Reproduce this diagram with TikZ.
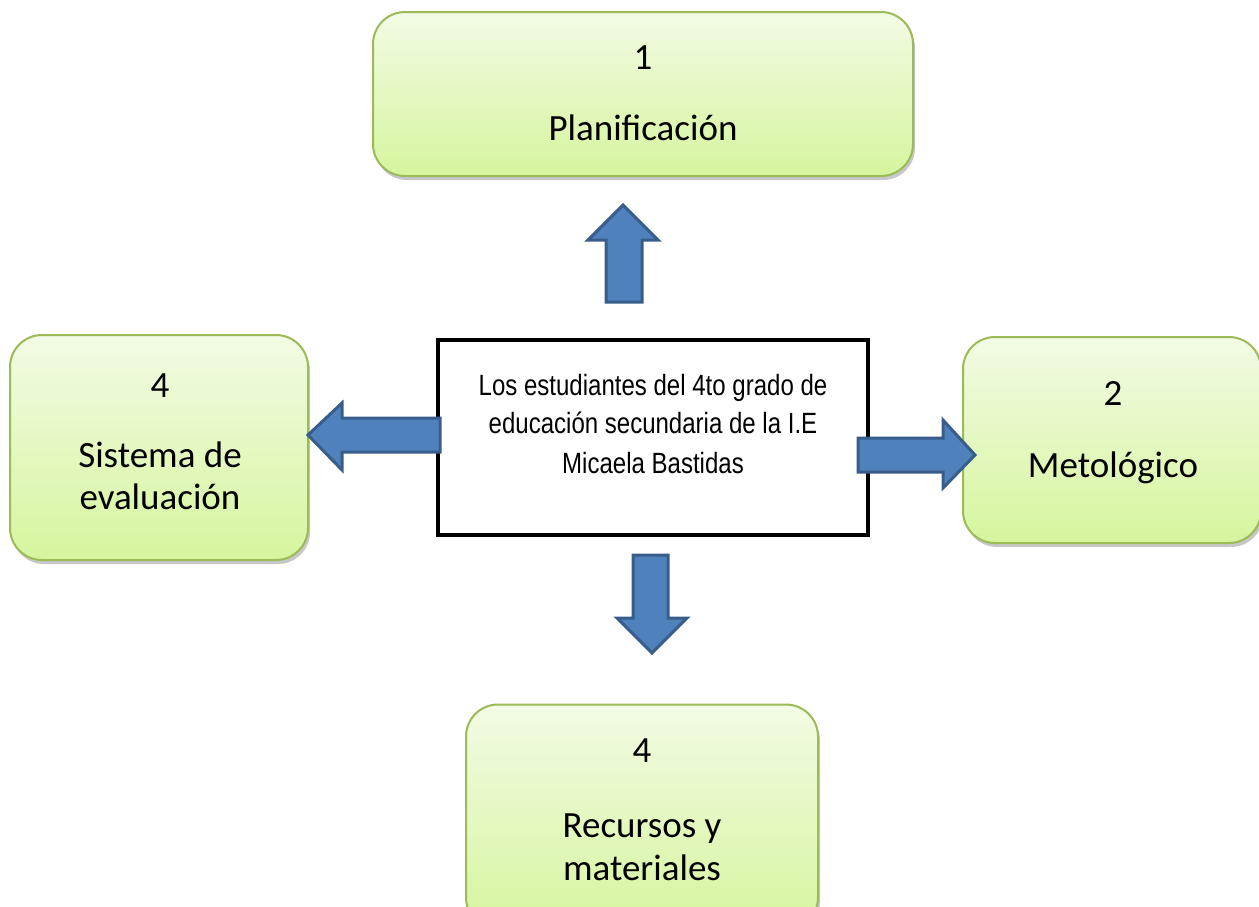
\documentclass[tikz,border=0pt]{standalone}
\usepackage{fontspec}
\setmainfont{Carlito}
\newfontfamily\narrowfont[FakeStretch=0.82]{Liberation Sans}
\usetikzlibrary{shadows}
\definecolor{boxtop}{HTML}{F2FBE4}
\definecolor{boxbot}{HTML}{D6F59E}
\definecolor{boxline}{HTML}{9BBB59}
\definecolor{arrfill}{HTML}{4F81BD}
\definecolor{arrline}{HTML}{385D8A}
\tikzset{
  greenbox/.style={rectangle, rounded corners=32pt, draw=boxline, line width=2pt,
    top color=boxtop, bottom color=boxbot,
    drop shadow={shadow xshift=2pt, shadow yshift=-4pt, opacity=0.22, fill=black}},
  boxtext/.style={anchor=base, font=\fontsize{37}{44}\selectfont, inner sep=0pt},
  centertext/.style={anchor=base, font=\narrowfont\fontsize{29.3}{39}\selectfont, inner sep=0pt},
  blockarrow/.style={fill=arrfill, draw=arrline, line width=3pt, line join=miter},
}
\begin{document}
\begin{tikzpicture}[x=1pt,y=-1pt]
\useasboundingbox (0,0) rectangle (1259,906);
\clip (0,0) rectangle (1259,906);
% boxes
\node[greenbox, minimum width=540pt, minimum height=164pt] (plan) at (643,94) {};
\node[greenbox, minimum width=298pt, minimum height=225pt] (eval) at (159,447.5) {};
\node[greenbox, minimum width=298pt, minimum height=206pt] (meto) at (1112,440) {};
\node[greenbox, minimum width=352pt, minimum height=225pt] (recu) at (642,817) {};
\node[rectangle, draw=black, line width=4pt, fill=white, minimum width=430pt, minimum height=195pt] (center) at (653,437.5) {};
% texts
\node[boxtext] (t1a) at (643,69) {1};
\node[boxtext] (t1b) at (643,140) {Planificación};
\node[boxtext] (t4a) at (160,397) {4};
\node[boxtext] (t4b) at (160,467) {Sistema de};
\node[boxtext] (t4c) at (160,509) {evaluación};
\node[boxtext] (t2a) at (1113,405) {2};
\node[boxtext] (t2b) at (1113,477) {Metológico};
\node[boxtext] (t5a) at (642,762) {4};
\node[boxtext] (t5b) at (642,837) {Recursos y};
\node[boxtext] (t5c) at (642,880) {materiales};
\node[centertext] (c1) at (653,395) {Los estudiantes del 4to grado de};
\node[centertext] (c2) at (653,433) {educación secundaria de la I.E};
\node[centertext] (c3) at (653,473) {Micaela Bastidas};
% block arrows
\draw[blockarrow] (606,302) -- (606,240) -- (588,240) -- (623,205) -- (658,240) -- (642,240) -- (642,302) -- cycle;
\draw[blockarrow] (440,418) -- (342,418) -- (342,403) -- (308,435) -- (342,470) -- (342,452) -- (440,452) -- cycle;
\draw[blockarrow] (858,438) -- (943,438) -- (943,420) -- (975,455) -- (943,488) -- (943,472) -- (858,472) -- cycle;
\draw[blockarrow] (633,555) -- (668,555) -- (668,618) -- (687,618) -- (652,653) -- (617,618) -- (633,618) -- cycle;
\end{tikzpicture}
\end{document}
